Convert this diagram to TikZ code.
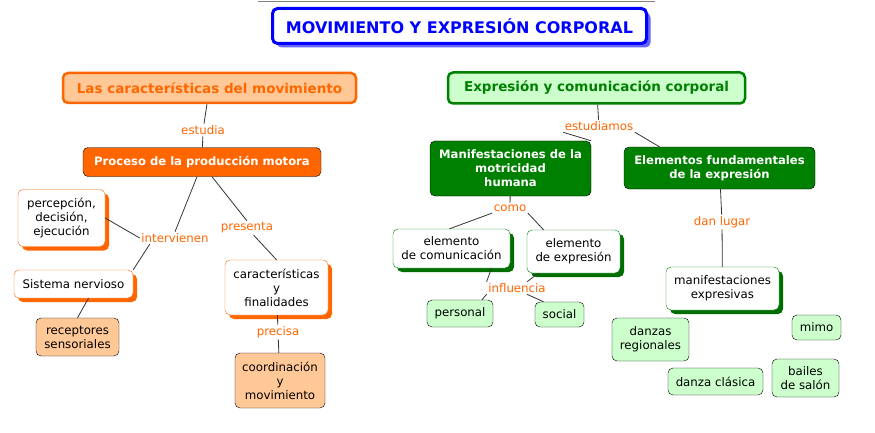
\documentclass[tikz,border=0pt]{standalone}
\usepackage{fontspec}
\setmainfont{DejaVu Sans}
\usetikzlibrary{shadows}
\definecolor{org}{HTML}{FF6600}
\definecolor{peach}{HTML}{FFC896}
\definecolor{grn}{HTML}{008000}
\definecolor{lgrn}{HTML}{CCFFCC}
\definecolor{blu}{HTML}{0000FF}
\begin{document}
\begin{tikzpicture}[x=1pt,y=-1pt,
  base/.style={rounded corners=5pt,align=center,inner sep=1pt,font=\fontsize{11.8}{14}\selectfont},
  head/.style={base,line width=2.5pt,font=\fontsize{13.5}{16}\selectfont\bfseries},
  dark/.style={base,draw=black,font=\fontsize{11.6}{14}\selectfont\bfseries,text=white},
  oshad/.style={base,draw=org,fill=white,general shadow={shadow xshift=4pt,shadow yshift=-4pt,fill=org}},
  gshad/.style={base,draw=grn,fill=white,general shadow={shadow xshift=4pt,shadow yshift=-4pt,fill=grn!85!black}},
  pch/.style={base,draw=black,fill=peach},
  lg/.style={base,draw=black,fill=lgrn},
  lab/.style={text=org,fill=white,inner sep=1.5pt,font=\fontsize{11.8}{14}\selectfont},
  ln/.style={draw=black!80,line width=0.8pt}]
\useasboundingbox (0,0) rectangle (875,433);
\draw[gray,line width=0.8pt] (258,1) -- (655,1);
\node[base,draw=blu,fill=white,line width=3pt,minimum width=374,minimum height=35,text=blu,font=\fontsize{16}{19}\selectfont\bfseries,
  general shadow={shadow xshift=4pt,shadow yshift=-4pt,fill=blu!60}] (t) at (459.5,26) {MOVIMIENTO Y EXPRESIÓN CORPORAL};
% left
\node[head,draw=org,fill=peach,text=org,minimum width=293,minimum height=30] (l1) at (209.5,88) {Las características del movimiento};
\node[dark,fill=org,minimum width=238,minimum height=29] (pr) at (202,162) {Proceso de la producción motora};
\node[lab] (estudia) at (203,130) {estudia};
\node[oshad,minimum width=87,minimum height=57] (pe) at (61.5,218) {percepción,\\decisión,\\ejecución};
\node[lab] (int) at (175,238) {intervienen};
\node[lab] (pres) at (247,228) {presenta};
\node[oshad,minimum width=119,minimum height=28] (sn) at (73.5,284) {Sistema nervioso};
\node[pch,minimum width=83,minimum height=38] (rs) at (77.5,337) {receptores\\sensoriales};
\node[oshad,minimum width=103,minimum height=55] (cf) at (276.5,287.5) {características\\y\\finalidades};
\node[lab] (prec) at (278,332) {precisa};
\node[pch,minimum width=90,minimum height=55] (cm) at (280,380.5) {coordinación\\y\\movimiento};
% right
\node[head,draw=grn,fill=lgrn,text=grn,minimum width=297,minimum height=31] (r1) at (596.5,88) {Expresión y comunicación corporal};
\node[lab] (est2) at (599,126) {estudiamos};
\node[dark,fill=grn,minimum width=161,minimum height=55] (ma) at (510.5,168.5) {Manifestaciones de la\\motricidad\\humana};
\node[dark,fill=grn,minimum width=191,minimum height=42] (el) at (719.5,168) {Elementos fundamentales\\de la expresión};
\node[lab] (como) at (510,208) {como};
\node[gshad,minimum width=117,minimum height=39] (ec) at (451.5,248.5) {elemento\\de comunicación};
\node[gshad,minimum width=93,minimum height=43] (ee) at (573.5,251.5) {elemento\\de expresión};
\node[lab] (inf) at (517,288) {influencia};
\node[lg,minimum width=66,minimum height=27] (pers) at (460,313.5) {personal};
\node[lg,minimum width=49,minimum height=25] (soc) at (559.5,314.5) {social};
\node[lab] (dan) at (722,222) {dan lugar};
\node[gshad,minimum width=113,minimum height=43] (me) at (722.5,288.5) {manifestaciones\\expresivas};
\node[lg,minimum width=77,minimum height=43] (dr) at (650.5,339.5) {danzas\\regionales};
\node[lg,minimum width=49,minimum height=25] (mi) at (816.5,327.5) {mimo};
\node[lg,minimum width=95,minimum height=27] (dc) at (715.5,381.5) {danza clásica};
\node[lg,minimum width=67,minimum height=38] (bs) at (805.5,378) {bailes\\de salón};
% connectors
\draw[ln] (l1) -- (estudia) -- (pr);
\draw[ln] ([xshift=-5]pr.south) -- (int.north);
\draw[ln] (int.west) -- (pe.east);
\draw[ln] ([xshift=10]int.south west) -- (sn.north east);
\draw[ln] ([xshift=15]sn.south) -- (rs.north);
\draw[ln] ([xshift=10]pr.south) -- (pres.north);
\draw[ln] (pres) -- (cf.north);
\draw[ln] (cf) -- (prec) -- (cm);
\draw[ln] (r1) -- (est2);
\draw[ln] (est2.south west) -- (ma.north east);
\draw[ln] (est2.south east) -- ([xshift=-60]el.north);
\draw[ln] (ma) -- (como);
\draw[ln] (como.south west) -- ([xshift=-2]ec.north);
\draw[ln] (como.south east) -- ([xshift=-30]ee.north);
\draw[ln] ([xshift=40]ec.south) -- (inf.north west);
\draw[ln] ([xshift=-35]ee.south) -- ([xshift=10]inf.north);
\draw[ln] (inf.south west) -- ([xshift=22]pers.north);
\draw[ln] ([xshift=10]inf.south) -- ([xshift=-16]soc.north);
\draw[ln] (el) -- (dan) -- (me);
\foreach \n/\t in {estudia/estudia,int/intervienen,pres/presenta,prec/precisa,est2/estudiamos,como/como,inf/influencia,dan/dan lugar}
  \node[lab] at (\n) {\t};
\end{tikzpicture}
\end{document}
